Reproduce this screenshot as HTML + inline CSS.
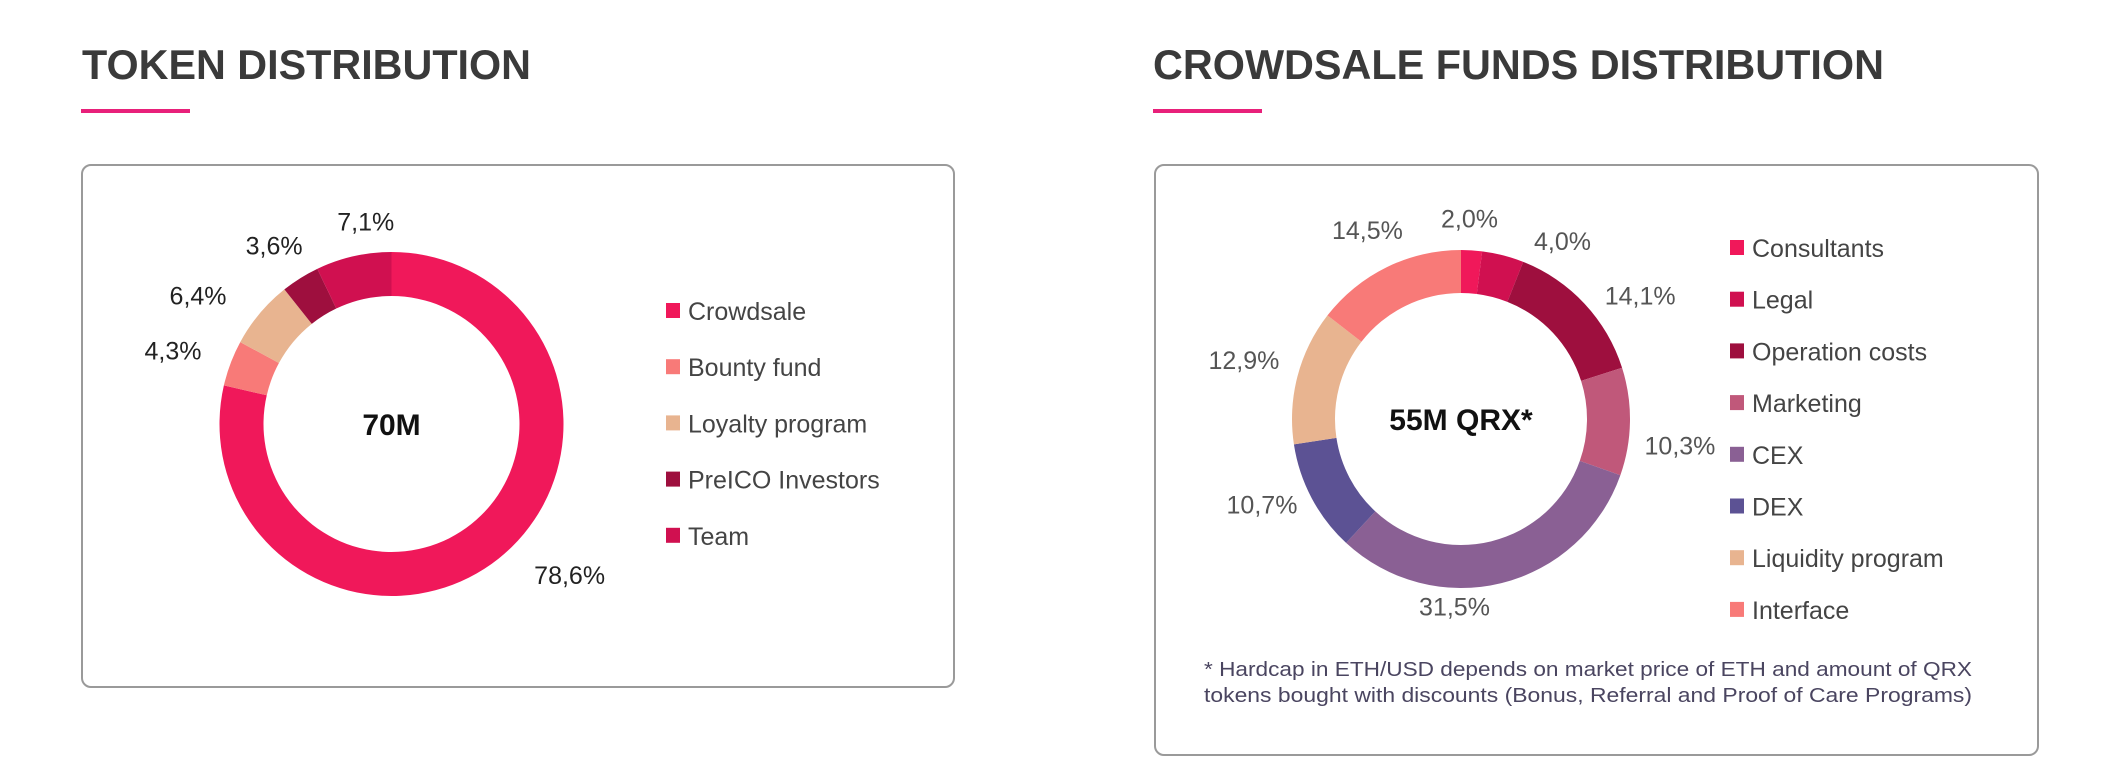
<!DOCTYPE html>
<html><head><meta charset="utf-8"><style>
html,body{margin:0;padding:0;background:#fff;}
svg{display:block;font-family:"Liberation Sans",sans-serif;}
</style></head><body>
<svg id="root" width="2112" height="774" viewBox="0 0 2112 774">
  <text x="82" y="79" font-size="42" font-weight="bold" fill="#3a3a3a" textLength="449" lengthAdjust="spacingAndGlyphs">TOKEN DISTRIBUTION</text>
  <rect x="81" y="109" width="109" height="4" fill="#e8207a"/>
  <rect x="82" y="165" width="872" height="522" rx="9" fill="#fff" stroke="#9a9a9a" stroke-width="2"/>
  <text x="1153" y="79" font-size="42" font-weight="bold" fill="#3a3a3a" textLength="731" lengthAdjust="spacingAndGlyphs">CROWDSALE FUNDS DISTRIBUTION</text>
  <rect x="1153" y="109" width="109" height="4" fill="#e8207a"/>
  <rect x="1155" y="165" width="883" height="590" rx="9" fill="#fff" stroke="#9a9a9a" stroke-width="2"/>
  <g id="left"></g>
  <g id="right"></g>
  <text x="1204" y="676" font-size="20.5" fill="#4a4560" textLength="768" lengthAdjust="spacingAndGlyphs">* Hardcap in ETH/USD depends on market price of ETH and amount of QRX</text>
  <text x="1204" y="702" font-size="20.5" fill="#4a4560" textLength="768" lengthAdjust="spacingAndGlyphs">tokens bought with discounts (Bonus, Referral and Proof of Care Programs)</text>
</svg>
<script>
const tokenCategories = ["Crowdsale","Bounty fund","Loyalty program","PreICO Investors","Team"];
const tokenValues = [78.6,4.3,6.4,3.6,7.1];
const tokenLabels = ["78,6%","4,3%","6,4%","3,6%","7,1%"];
const tokenColors = ["#f0185a","#f87a78","#e8b490","#9e0f3e","#d01050"];
const tokenLabelNudge = [[38,-25],[-8,6],[-21,16],[2,12],[24,17]];
const fundCategories = ["Consultants","Legal","Operation costs","Marketing","CEX","DEX","Liquidity program","Interface"];
const fundValues = [2.0,4.0,14.1,10.3,31.5,10.7,12.9,14.5];
const fundLabels = ["2,0%","4,0%","14,1%","10,3%","31,5%","10,7%","12,9%","14,5%"];
const fundColors = ["#f0185a","#d01050","#9e0f3e","#c0587a","#8a6094","#5c5294","#e8b490","#f87a78"];
const fundLabelNudge = [[-5,14],[48,30],[22,23],[4,23],[-58,-21],[-9,-15],[-9,-5],[1,4]];

const NS="http://www.w3.org/2000/svg";
function mk(tag,attrs,parent){const e=document.createElementNS(NS,tag);for(const k in attrs)e.setAttribute(k,attrs[k]);parent.appendChild(e);return e;}
function pt(cx,cy,r,a){return [cx+r*Math.sin(a),cy-r*Math.cos(a)];}

function donut(g,cfg){
  const {cx,cy,ro,ri,values,labels,colors,cats,center,labelColor,legendX,legendY0,legendStep,labelR,nudge,id}=cfg;
  const total=values.reduce((a,b)=>a+b,0);
  let a0=0;
  values.forEach((v,i)=>{
    const a1=a0+v/total*2*Math.PI;
    const large=(a1-a0)>Math.PI?1:0;
    const [x0,y0]=pt(cx,cy,ro,a0),[x1,y1]=pt(cx,cy,ro,a1),[x2,y2]=pt(cx,cy,ri,a1),[x3,y3]=pt(cx,cy,ri,a0);
    const p=mk('path',{d:`M${x0},${y0}A${ro},${ro} 0 ${large} 1 ${x1},${y1}L${x2},${y2}A${ri},${ri} 0 ${large} 0 ${x3},${y3}Z`,fill:colors[i]},g);
    
    
    const am=(a0+a1)/2;
    const [lx,ly]=pt(cx,cy,labelR,am);
    const t=mk('text',{x:lx+nudge[i][0],y:ly+nudge[i][1]+9,'font-size':25,fill:labelColor,'text-anchor':'middle'},g);
    t.textContent=labels[i];
    
    
    a0=a1;
    const ly2=legendY0+i*legendStep;
    const sw=mk('rect',{x:legendX,y:ly2-8,width:14,height:15,fill:colors[i]},g);
    
    
    const lt=mk('text',{x:legendX+22,y:ly2+9,'font-size':25,fill:'#444'},g);
    lt.textContent=cats[i];
    
    
  });
  const c=mk('text',{x:cx,y:cy+11,'font-size':30,'font-weight':'bold',fill:'#111','text-anchor':'middle'},g);
  c.textContent=center;
  
  
}
donut(document.getElementById('left'),{id:'token',cx:391.5,cy:424,ro:172,ri:128,values:tokenValues,labels:tokenLabels,colors:tokenColors,cats:tokenCategories,center:"70M",labelColor:"#222",legendX:666,legendY0:311,legendStep:56.2,labelR:225,nudge:tokenLabelNudge});
donut(document.getElementById('right'),{id:'funds',cx:1461,cy:419,ro:169,ri:126,values:fundValues,labels:fundLabels,colors:fundColors,cats:fundCategories,center:"55M QRX*",labelColor:"#555",legendX:1730,legendY0:248,legendStep:51.7,labelR:215,nudge:fundLabelNudge});
</script>
</body></html>
